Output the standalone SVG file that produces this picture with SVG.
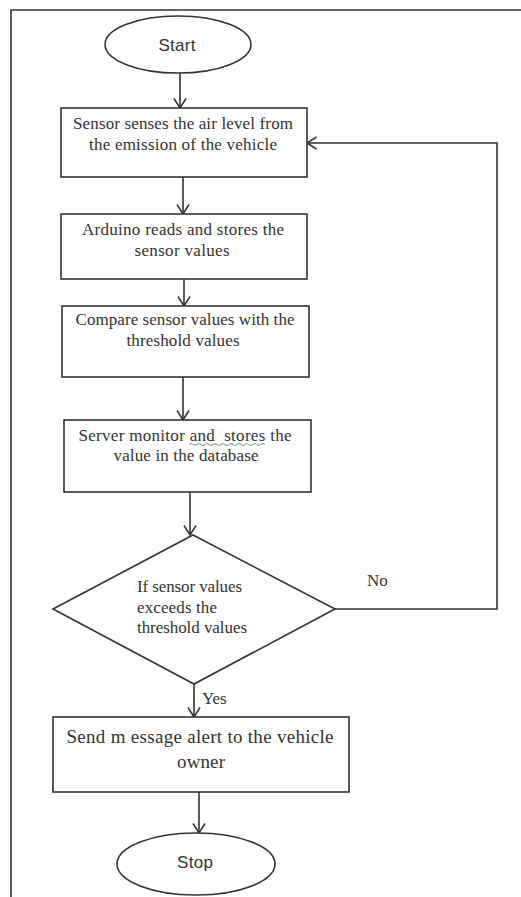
<svg xmlns="http://www.w3.org/2000/svg" width="521" height="897" viewBox="0 0 521 897">
<defs>
<marker id="arr" markerUnits="userSpaceOnUse" markerWidth="12" markerHeight="14" refX="10" refY="6.5" orient="auto">
<path d="M0.5,0.5 L10,6.5 L0.5,12.5" fill="none" stroke="#333" stroke-width="1.5"/>
</marker>
<style>
.shape{fill:#fff;stroke:#333;stroke-width:1.6}
.line{fill:none;stroke:#333;stroke-width:1.6}
.t{font-family:"Liberation Serif","Times New Roman",serif;font-size:17px;fill:#333;text-anchor:middle}
.tl{font-family:"Liberation Serif","Times New Roman",serif;font-size:17px;fill:#333}
.big{font-size:19px}
.s{font-family:"Liberation Sans",Arial,sans-serif;font-size:17px;fill:#333;text-anchor:middle}
</style>
</defs>
<rect width="521" height="897" fill="#fff"/>
<g id="frame">
<path class="line" d="M11,897 L11,10 L521,10"/>
</g>
<g id="connectors">
<path class="line" d="M180,73 L180,108" marker-end="url(#arr)"/>
<path class="line" d="M183,177 L183,214" marker-end="url(#arr)"/>
<path class="line" d="M184,279 L184,306" marker-end="url(#arr)"/>
<path class="line" d="M183,377 L183,420" marker-end="url(#arr)"/>
<path class="line" d="M190,492 L190,535" marker-end="url(#arr)"/>
<path class="line" d="M194,684 L194,717" marker-end="url(#arr)"/>
<path class="line" d="M199,792 L199,833" marker-end="url(#arr)"/>
<path class="line" d="M335,609 L497,609 L497,143 L307,143" marker-end="url(#arr)"/>
<text class="tl" x="367" y="586">No</text>
<text class="tl" x="202" y="704">Yes</text>
</g>
<g id="start">
<ellipse class="shape" cx="178" cy="44.5" rx="73" ry="28.5"/>
<text class="s" x="177" y="51" textLength="37">Start</text>
</g>
<g id="sense">
<rect class="shape" x="61" y="108" width="246" height="69"/>
<text class="t" x="183" y="129" textLength="220">Sensor senses the air level from</text>
<text class="t" x="183" y="150" textLength="188">the emission of the vehicle</text>
</g>
<g id="arduino">
<rect class="shape" x="61" y="214" width="246" height="65"/>
<text class="t" x="183" y="235" textLength="202">Arduino reads and stores the</text>
<text class="t" x="182" y="256" textLength="95">sensor values</text>
</g>
<g id="compare">
<rect class="shape" x="62" y="306" width="247" height="71"/>
<text class="t" x="185" y="325" textLength="219">Compare sensor values with the</text>
<text class="t" x="183" y="346" textLength="113">threshold values</text>
</g>
<g id="server">
<rect class="shape" x="64" y="420" width="247" height="72"/>
<text class="t" x="185" y="441" textLength="213" style="white-space:pre">Server monitor and  stores the</text>
<path d="M189,444.5 q2,-2 4,0 t4,0 t4,0 t4,0 t4,0 t4,0 t4,0 t4,0 t4,0 t4,0 t4,0 t4,0 t4,0 t4,0 t4,0 t4,0 t4,0 t4,0 t4,0" fill="none" stroke="#5a9a5a" stroke-width="0.9"/>
<text class="t" x="186" y="461" textLength="145">value in the database</text>
</g>
<g id="decision">
<polygon class="shape" points="193,535 335,609 194,684 53,609"/>
<text class="tl" x="137" y="592" textLength="105">If sensor values</text>
<text class="tl" x="137" y="613" textLength="80">exceeds the</text>
<text class="tl" x="137" y="633" textLength="110">threshold values</text>
</g>
<g id="alert">
<rect class="shape" x="53" y="717" width="296" height="75"/>
<text class="t big" x="200" y="743" textLength="267" style="white-space:pre">Send m essage alert to the vehicle</text>
<text class="t big" x="201" y="768" textLength="48">owner</text>
</g>
<g id="stop">
<ellipse class="shape" cx="196" cy="864" rx="79" ry="31"/>
<text class="s" x="195" y="868" textLength="36">Stop</text>
</g>
</svg>
